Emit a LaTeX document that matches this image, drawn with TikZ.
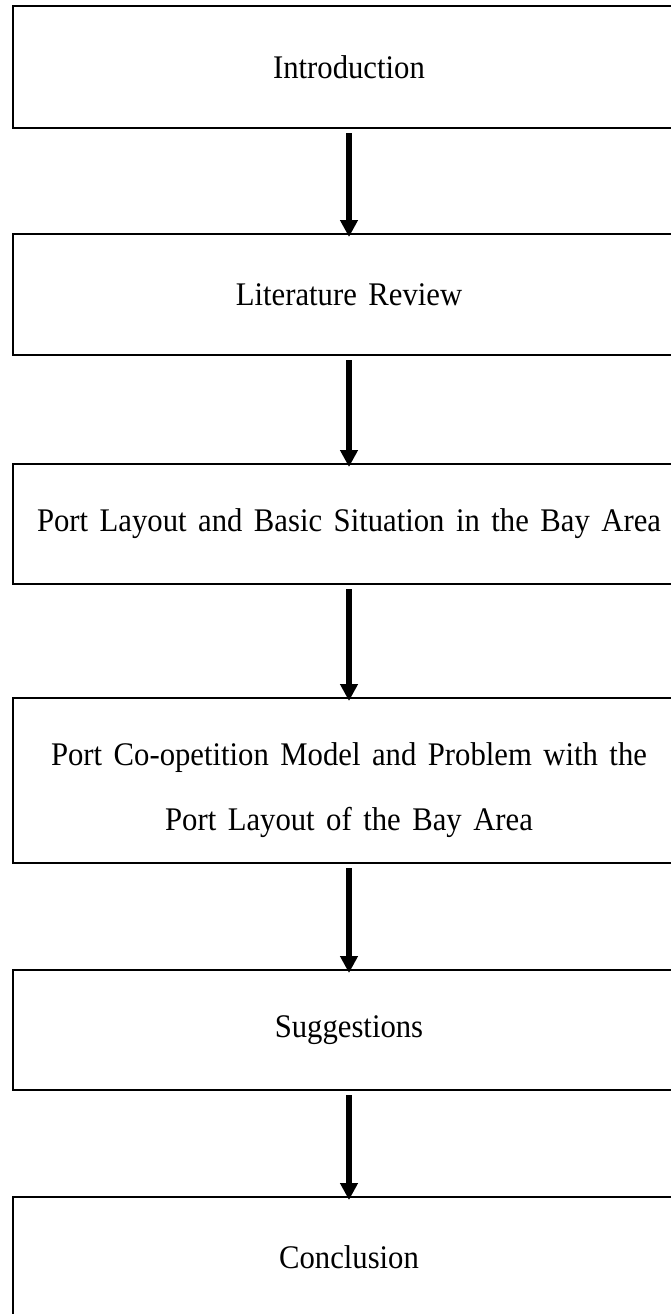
\documentclass[tikz,border=0pt]{standalone}
\usepackage{fontspec}
\setmainfont[FakeStretch=0.93, WordSpace=1.5]{Liberation Serif}
\usetikzlibrary{arrows.meta}

\begin{document}
\begin{tikzpicture}[x=1pt, y=-1pt,
        box/.style={draw, line width=2pt, minimum width=673pt, inner sep=0pt, align=center,
            font=\fontsize{33pt}{65pt}\selectfont},
        arrow/.style={-{Triangle[width=17pt, length=17pt]}, line width=6pt, shorten <=4pt, shorten >=-4pt}
    ]
        \useasboundingbox (0, 0) rectangle (670, 1314);

        % Introduction
        \node[box, minimum height=122pt] (intro) at (349, 67) {Introduction};

        % Literature review
        \node[box, minimum height=121pt] (lit) at (349, 294.5) {Literature Review};

        % Port layout
        \node[box, minimum height=120pt] (layout) at (349, 524) {Port Layout and Basic Situation in the Bay Area};

        % Co-opetition model (strut pushes the two lines a little down)
        \node[box, minimum height=165pt] (model) at (349, 780.5) {\rule{0pt}{43pt}Port Co-opetition Model and Problem with the\\Port Layout of the Bay Area};

        % Suggestions
        \node[box, minimum height=120pt] (sugg) at (349, 1030) {Suggestions};

        % Conclusion
        \node[box, minimum height=120pt] (concl) at (349, 1257) {Conclusion};

        % 箭头
        \draw[arrow] (intro) -- (lit);
        \draw[arrow] (lit) -- (layout);
        \draw[arrow] (layout) -- (model);
        \draw[arrow] (model) -- (sugg);
        \draw[arrow] (sugg) -- (concl);
    \end{tikzpicture}
\end{document}
